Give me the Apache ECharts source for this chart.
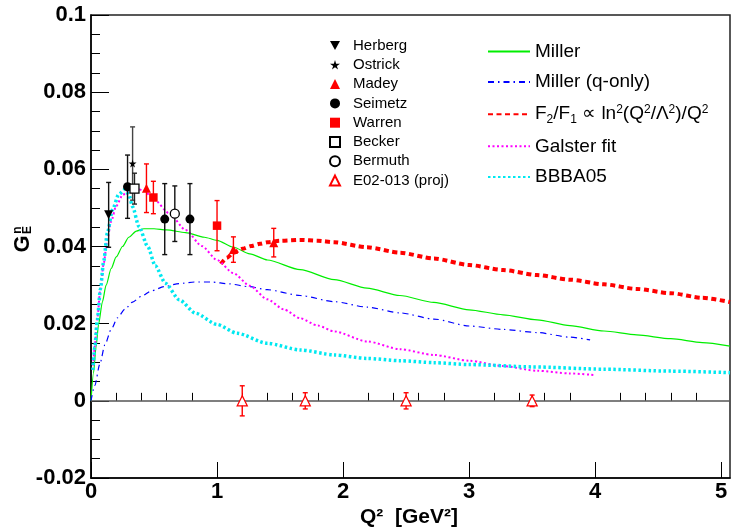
<!DOCTYPE html>
<html>
<head>
<meta charset="utf-8">
<script src="https://cdn.jsdelivr.net/npm/echarts@6/dist/echarts.min.js"></script>
<style>
  html, body { margin: 0; padding: 0; background: #fff; }
  #chart { width: 731px; height: 529px; }
</style>
</head>
<body>
<div id="chart"></div>
<script>
// Neutron electric form factor G_E^n versus Q^2: world data and model curves.
const FONT = "'Liberation Sans', Arial, Helvetica, sans-serif";

// ---- axes ----
const X_MIN = 0, X_MAX = 5.07;
const Y_MIN = -0.02, Y_MAX = 0.1, Y_STEP = 0.02;
const xMajorTicks = [0, 1, 2, 3, 4, 5];

// ---- measurements: Q^2 [GeV^2], G_E^n, error ----
const herbergX = [0.14];
const herbergY = [0.0482];
const herbergE = [0.0084];

const ostrickX = [0.33];
const ostrickY = [0.0615];
const ostrickE = [0.0095];

const madeyX = [0.44, 1.13, 1.45];
const madeyY = [0.0551, 0.0392, 0.0410];
const madeyE = [0.0063, 0.0033, 0.0037];

const seimetzX = [0.29, 0.585, 0.785];
const seimetzY = [0.0555, 0.0471, 0.0471];
const seimetzE = [0.0082, 0.0092, 0.0092];

const warrenX = [0.495, 1.0];
const warrenY = [0.0527, 0.0454];
const warrenE = [0.0042, 0.0065];

const beckerX = [0.345];
const beckerY = [0.0550];
const beckerE = [0.0040];

const bermuthX = [0.665];
const bermuthY = [0.0485];
const bermuthE = [0.0072];

const e02X = [1.2, 1.7, 2.5, 3.5];
const e02Y = [0, 0, 0, 0];
const e02E = [0.0039, 0.0021, 0.0021, 0.0015];

// ---- model curves ----
const millerX = [0, 0.02, 0.04, 0.06, 0.09, 0.12, 0.16, 0.2, 0.25, 0.3, 0.36, 0.42, 0.5, 0.6, 0.75, 0.9, 1.0, 1.13, 1.26, 1.4, 1.66, 1.93, 2.19, 2.45, 2.72, 3.0, 3.27, 3.54, 3.8, 4.07, 4.33, 4.6, 4.85, 5.07];
const millerY = [0, 0.0072, 0.0140, 0.0198, 0.0256, 0.0300, 0.0343, 0.0373, 0.0400, 0.0424, 0.0440, 0.0446, 0.0446, 0.0443, 0.0436, 0.0424, 0.0416, 0.0398, 0.0381, 0.0365, 0.0340, 0.0314, 0.0292, 0.0273, 0.0255, 0.0236, 0.0223, 0.0210, 0.0195, 0.0181, 0.0171, 0.0161, 0.0151, 0.0142];

const qOnlyX = [0, 0.03, 0.07, 0.11, 0.16, 0.21, 0.27, 0.33, 0.4, 0.48, 0.58, 0.7, 0.82, 0.95, 1.1, 1.25, 1.4, 1.66, 1.93, 2.19, 2.45, 2.72, 3.0, 3.27, 3.54, 3.8, 3.96];
const qOnlyY = [0, 0.0040, 0.0095, 0.0145, 0.0185, 0.0215, 0.0238, 0.0256, 0.0271, 0.0285, 0.0296, 0.0304, 0.0308, 0.0308, 0.0303, 0.0296, 0.0288, 0.0273, 0.0257, 0.0243, 0.0228, 0.0212, 0.0194, 0.0185, 0.0177, 0.0165, 0.0158];

const f2f1X = [1.03, 1.08, 1.13, 1.2, 1.27, 1.34, 1.4, 1.5, 1.66, 1.8, 1.93, 2.19, 2.45, 2.72, 3.0, 3.27, 3.54, 3.8, 4.07, 4.33, 4.6, 4.85, 5.07];
const f2f1Y = [0.0355, 0.0371, 0.0384, 0.0394, 0.0401, 0.0407, 0.0411, 0.0415, 0.0417, 0.0415, 0.0411, 0.0398, 0.0384, 0.0369, 0.0352, 0.0339, 0.0326, 0.0314, 0.0302, 0.0290, 0.0279, 0.0267, 0.0256];

const galsterX = [0.015, 0.03, 0.05, 0.075, 0.1, 0.13, 0.16, 0.2, 0.25, 0.3, 0.36, 0.42, 0.5, 0.62, 0.75, 0.88, 1.0, 1.13, 1.26, 1.4, 1.53, 1.66, 1.8, 1.93, 2.19, 2.45, 2.72, 3.0, 3.27, 3.54, 3.8, 3.99];
const galsterY = [0.0080, 0.0140, 0.0215, 0.0290, 0.0355, 0.0420, 0.0465, 0.0505, 0.0533, 0.0546, 0.0550, 0.0545, 0.0522, 0.0486, 0.0443, 0.0401, 0.0365, 0.0331, 0.0298, 0.0263, 0.0237, 0.0214, 0.0195, 0.0180, 0.0154, 0.0134, 0.0119, 0.0104, 0.0090, 0.0078, 0.0071, 0.0067];

const bbbaX = [0.015, 0.03, 0.05, 0.075, 0.1, 0.13, 0.17, 0.22, 0.27, 0.3, 0.33, 0.38, 0.45, 0.51, 0.59, 0.7, 0.83, 1.0, 1.16, 1.4, 1.66, 1.93, 2.19, 2.45, 2.72, 3.0, 3.5, 4.07, 4.6, 5.07];
const bbbaY = [0.0080, 0.0138, 0.0210, 0.0290, 0.0360, 0.0435, 0.0495, 0.0535, 0.0548, 0.0535, 0.0503, 0.0452, 0.0400, 0.0350, 0.0305, 0.0262, 0.0227, 0.0198, 0.0175, 0.0149, 0.0132, 0.0119, 0.0110, 0.0104, 0.0099, 0.0094, 0.0088, 0.0082, 0.0077, 0.0073];

// minor x ticks: five subdivisions of every unit step
const xMinorTicks = [];
for (let i = 0; i < xMajorTicks.length - 1; i++) {
  for (let k = 1; k < 5; k++) xMinorTicks.push(+(xMajorTicks[i] + k * 0.2).toFixed(2));
}

const pairs = (xs, ys) => xs.map((x, i) => [x, ys[i]]);
const triples = (xs, ys, es) => xs.map((x, i) => [x, ys[i], es[i]]);

function curve(name, xs, ys, color, width, dash, extra) {
  return Object.assign({
    type: 'line', name, data: pairs(xs, ys),
    symbol: 'none', smooth: 0.25, smoothMonotone: 'x',
    lineStyle: { color, width, type: dash, cap: 'butt' },
    itemStyle: { color }, z: 2, silent: true
  }, extra || {});
}

function errorBars(id, xs, ys, es, color) {
  return {
    type: 'custom', id, silent: true, z: 4,
    data: triples(xs, ys, es),
    encode: { x: 0, y: 1 },
    renderItem(params, api) {
      const x = api.value(0), y = api.value(1), e = api.value(2);
      const hi = api.coord([x, y + e]);
      const lo = api.coord([x, y - e]);
      const cw = 2.5;
      const st = { stroke: color, lineWidth: 1.4 };
      return {
        type: 'group',
        children: [
          { type: 'line', shape: { x1: hi[0], y1: hi[1], x2: lo[0], y2: lo[1] }, style: st },
          { type: 'line', shape: { x1: hi[0] - cw, y1: hi[1], x2: hi[0] + cw, y2: hi[1] }, style: st },
          { type: 'line', shape: { x1: lo[0] - cw, y1: lo[1], x2: lo[0] + cw, y2: lo[1] }, style: st }
        ]
      };
    }
  };
}

function points(name, xs, ys, symbol, size, fill, stroke, rotate) {
  return {
    type: 'scatter', name, data: pairs(xs, ys),
    symbol, symbolSize: size, symbolRotate: rotate || 0,
    itemStyle: { color: fill, borderColor: stroke, borderWidth: fill === stroke ? 0 : 1.3, opacity: 1 },
    z: 5, silent: true
  };
}

const STAR = 'path://M50,0 L61,35 L98,35 L68,57 L79,91 L50,70 L21,91 L32,57 L2,35 L39,35 Z';
const DOWN_TRIANGLE = 'path://M0,0 L10,0 L5,9 Z';

const series = [
  curve('Miller', millerX, millerY, '#00ee00', 1.2, 'solid', {
    markLine: {
      silent: true, symbol: 'none', label: { show: false },
      lineStyle: { color: '#555', width: 1.6, type: 'solid' },
      data: [{ yAxis: 0 }]
    }
  }),
  curve('Miller (q-only)', qOnlyX, qOnlyY, '#0000ff', 1.2, [6, 4, 1.5, 4]),
  curve('F2/F1', f2f1X, f2f1Y, '#ff0000', 4, [5, 3.5]),
  curve('Galster fit', galsterX, galsterY, '#ff00ff', 2, [2, 2.5]),
  curve('BBBA05', bbbaX, bbbaY, '#00e8f0', 3.5, [2.5, 2.5]),

  errorBars('herbergErr', herbergX, herbergY, herbergE, '#111'),
  errorBars('ostrickErr', ostrickX, ostrickY, ostrickE, '#444'),
  errorBars('madeyErr', madeyX, madeyY, madeyE, '#ff0000'),
  errorBars('seimetzErr', seimetzX, seimetzY, seimetzE, '#111'),
  errorBars('warrenErr', warrenX, warrenY, warrenE, '#ff0000'),
  errorBars('beckerErr', beckerX, beckerY, beckerE, '#222'),
  errorBars('bermuthErr', bermuthX, bermuthY, bermuthE, '#111'),
  errorBars('e02Err', e02X, e02Y, e02E, '#ff0000'),

  points('Herberg', herbergX, herbergY, DOWN_TRIANGLE, 9, '#000', '#000'),
  points('Ostrick', ostrickX, ostrickY, STAR, 8, '#000', '#000'),
  points('Madey', madeyX, madeyY, 'triangle', 9, '#ff0000', '#ff0000'),
  points('Seimetz', seimetzX, seimetzY, 'circle', 9, '#000', '#000'),
  points('Warren', warrenX, warrenY, 'rect', 8.5, '#ff0000', '#ff0000'),
  points('Becker', beckerX, beckerY, 'rect', 9, '#fff', '#000'),
  points('Bermuth', bermuthX, bermuthY, 'circle', 9, '#fff', '#000'),
  points('E02-013 (proj)', e02X, e02Y, 'triangle', 10, '#fff', '#ff0000')
];

const chart = echarts.init(document.getElementById('chart'), null, { renderer: 'canvas' });
chart.setOption({
  animation: false,
  backgroundColor: '#fff',
  grid: {
    left: 91, top: 15, width: 639, height: 463,
    show: true, borderColor: '#222', borderWidth: 1.5, backgroundColor: 'transparent'
  },
  xAxis: [
    {
      type: 'value', min: X_MIN, max: X_MAX, position: 'bottom',
      axisLine: { show: true, onZero: false, lineStyle: { color: '#000', width: 1.5 } },
      axisTick: { show: true, inside: true, length: 16, customValues: xMajorTicks, lineStyle: { color: '#000', width: 1 } },
      axisLabel: { customValues: xMajorTicks, color: '#000', fontFamily: FONT, fontWeight: 'bold', fontSize: 22, margin: 3 },
      splitLine: { show: false }
    },
    {
      type: 'value', min: X_MIN, max: X_MAX, position: 'bottom',
      axisLine: { show: false },
      axisTick: { show: true, inside: true, length: 8, customValues: xMinorTicks, lineStyle: { color: '#000', width: 1 } },
      axisLabel: { show: false },
      splitLine: { show: false }
    }
  ],
  yAxis: {
    type: 'value', min: Y_MIN, max: Y_MAX, interval: Y_STEP,
    axisLine: { show: true, onZero: false, lineStyle: { color: '#000', width: 1.5 } },
    axisTick: { show: true, inside: true, length: 18, lineStyle: { color: '#000', width: 1 } },
    minorTick: { show: true, splitNumber: 4, length: 9, lineStyle: { color: '#000', width: 1 } },
    axisLabel: {
      color: '#000', fontFamily: FONT, fontWeight: 'bold', fontSize: 22, margin: 5,
      formatter: v => String(+v.toFixed(3))
    },
    splitLine: { show: false }
  },
  legend: [
    {
      data: ['Herberg', 'Ostrick', 'Madey', 'Seimetz', 'Warren', 'Becker', 'Bermuth', 'E02-013 (proj)'],
      orient: 'vertical', left: 329, top: 38, padding: 0,
      itemWidth: 10, itemHeight: 10, itemGap: 4.3, selectedMode: false,
      textStyle: { fontFamily: FONT, fontSize: 15, color: '#000', padding: [0, 0, 0, 8] }
    },
    {
      data: ['Miller', 'Miller (q-only)', 'F2/F1', 'Galster fit', 'BBBA05'],
      orient: 'vertical', left: 487, top: 42, padding: 0,
      itemWidth: 42, itemHeight: 12, itemGap: 11.6, selectedMode: false,
      itemStyle: { opacity: 0 },
      formatter: name => name === 'F2/F1'
        ? '{t|F}{sub|2}{t|/F}{sub|1}{t| \u221D ln}{sup|2}{t|(Q}{sup|2}{t|/\u039B}{sup|2}{t|)/Q}{sup|2}'
        : name,
      textStyle: {
        fontFamily: FONT, fontSize: 19, color: '#000',
        rich: {
          t: { fontFamily: FONT, fontSize: 19, color: '#000', lineHeight: 22, verticalAlign: 'middle' },
          sup: { fontFamily: FONT, fontSize: 12, color: '#000', lineHeight: 12, verticalAlign: 'top' },
          sub: { fontFamily: FONT, fontSize: 12, color: '#000', lineHeight: 12, verticalAlign: 'bottom' }
        }
      }
    }
  ],
  graphic: [
    {
      type: 'text', x: 409, y: 517, silent: true,
      style: { text: 'Q\u00B2  [GeV\u00B2]', fontFamily: FONT, fontWeight: 'bold', fontSize: 21, fill: '#000', align: 'center', verticalAlign: 'middle' }
    },
    {
      type: 'text', x: 23, y: 244, rotation: Math.PI / 2, silent: true,
      style: { text: 'G', fontFamily: FONT, fontWeight: 'bold', fontSize: 22, fill: '#000', align: 'center', verticalAlign: 'middle' }
    },
    {
      type: 'text', x: 18, y: 230, rotation: Math.PI / 2, silent: true,
      style: { text: 'n', fontFamily: FONT, fontWeight: 'bold', fontSize: 12, fill: '#000', align: 'center', verticalAlign: 'middle' }
    },
    {
      type: 'text', x: 28, y: 230, rotation: Math.PI / 2, silent: true,
      style: { text: 'E', fontFamily: FONT, fontWeight: 'bold', fontSize: 12, fill: '#000', align: 'center', verticalAlign: 'middle' }
    }
  ],
  series
});
</script>
</body>
</html>
